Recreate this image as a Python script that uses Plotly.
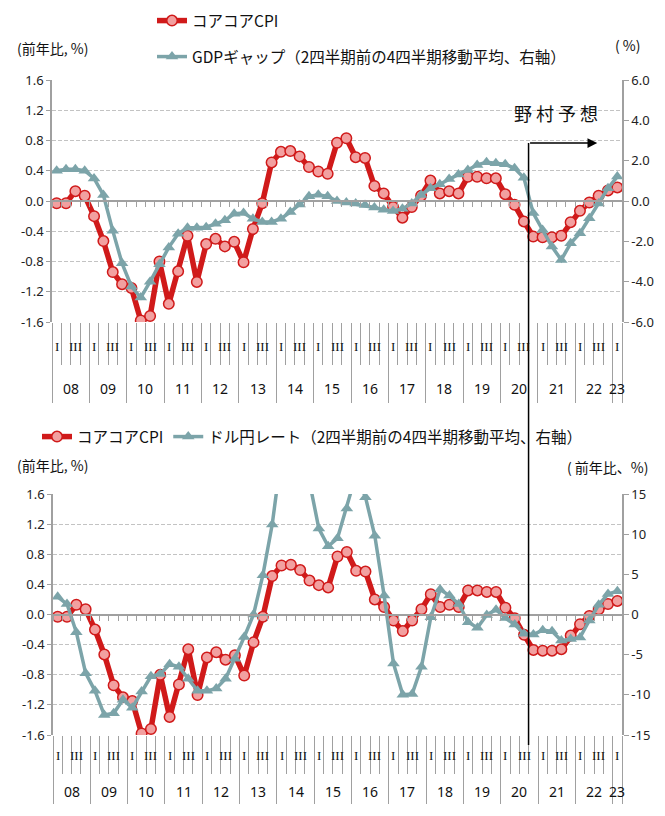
import plotly.graph_objects as go

# ---------------- data ----------------
quarters = list(range(61))  # 2008Q1 .. 2023Q1
years = ["08", "09", "10", "11", "12", "13", "14", "15", "16", "17", "18", "19", "20", "21", "22", "23"]
quarter_labels = ["I", "", "III", ""]

core_core_cpi = [-0.03, -0.03, 0.13, 0.07, -0.20, -0.53, -0.94, -1.10, -1.15, -1.58,
                 -1.52, -0.80, -1.36, -0.93, -0.46, -1.07, -0.57, -0.50, -0.60, -0.54,
                 -0.81, -0.37, -0.03, 0.51, 0.65, 0.66, 0.59, 0.45, 0.39, 0.36,
                 0.77, 0.83, 0.58, 0.57, 0.20, 0.10, -0.08, -0.22, -0.08, 0.07,
                 0.27, 0.10, 0.13, 0.10, 0.32, 0.32, 0.30, 0.30, 0.09, -0.05,
                 -0.27, -0.47, -0.48, -0.48, -0.46, -0.28, -0.13, -0.02, 0.07, 0.14, 0.18]

gdp_gap = [1.50, 1.58, 1.58, 1.50, 1.12, 0.30, -1.47, -3.09, -4.24, -4.79,
           -4.00, -3.14, -2.30, -1.62, -1.33, -1.33, -1.30, -1.13, -0.96, -0.63,
           -0.60, -0.88, -1.04, -1.04, -0.88, -0.55, -0.17, 0.23, 0.31, 0.23,
           0.00, -0.08, -0.12, -0.20, -0.32, -0.43, -0.49, -0.38, -0.12, 0.30,
           0.63, 0.83, 1.09, 1.32, 1.54, 1.79, 1.92, 1.87, 1.82, 1.62,
           1.15, -0.60, -1.44, -2.26, -2.92, -2.10, -1.60, -0.86, -0.12, 0.63, 1.21]

usdjpy = [2.2, 1.3, -2.2, -7.3, -9.5, -12.5, -12.3, -10.6, -11.6, -9.6,
          -7.7, -7.4, -6.2, -6.5, -8.0, -9.5, -9.5, -9.2, -8.0, -5.5,
          -2.8, 0.0, 4.9, 11.2, 20.0, 22.5, 19.5, 16.5, 10.7, 8.5,
          9.5, 13.2, 17.5, 14.6, 9.8, 2.35, -6.1, -10.0, -9.9, -6.5,
          -0.35, 3.1, 2.35, 1.3, -0.95, -1.65, -0.05, 0.6, -0.45, -1.25,
          -2.4, -2.5, -1.95, -2.1, -3.25, -3.05, -2.85, -0.75, 1.2, 2.55, 2.9]

left_ticks = [-1.6, -1.2, -0.8, -0.4, 0.0, 0.4, 0.8, 1.2, 1.6]
gdp_ticks = [-6.0, -4.0, -2.0, 0.0, 2.0, 4.0, 6.0]
fx_ticks = [-15, -10, -5, 0, 5, 10, 15]
forecast_start = 50.5  # boundary between 2020Q3 and 2020Q4

# ---------------- style ----------------
OFF = 8                     # page body margin
FW, FH = 665 - 2 * OFF, 816 - 2 * OFF
RED = "rgb(208,26,26)"
PINK = "rgb(242,160,160)"
TEAL = "rgb(124,164,169)"
AX = "rgb(160,160,160)"
GRID = "rgb(195,195,195)"
JP = "Noto Sans CJK JP"
NUM = "Noto Sans"
SERIF = "Liberation Serif"

def px(x):
    return (x - OFF) / FW

def py(y):
    return 1 - (y - OFF) / FH

top_y = [py(322), py(80)]
bot_y = [py(735), py(494)]
top_x = [px(52), px(622)]
bot_x = [px(53), px(622)]

q_bounds = [i - 0.5 for i in range(62)]
y_bounds = [i - 0.5 for i in range(0, 61, 4)] + [60.5]

fig = go.Figure()

cpi_style = dict(mode="lines+markers", line=dict(color=RED, width=5.5),
                 marker=dict(symbol="circle", size=10.5, color=PINK, line=dict(color=RED, width=1.5)))
teal_style = dict(mode="lines+markers", line=dict(color=TEAL, width=3.5),
                  marker=dict(symbol="triangle-up", size=11, color=TEAL))

def helper(xa, ya):
    return go.Scatter(x=[None], y=[None], xaxis=xa, yaxis=ya, showlegend=False, hoverinfo="skip")

fig.add_trace(go.Scatter(x=quarters, y=core_core_cpi, name="コアコアCPI", xaxis="x", yaxis="y",
                         legend="legend", hoverinfo="skip", **cpi_style))
fig.add_trace(go.Scatter(x=quarters, y=gdp_gap, name="GDPギャップ（2四半期前の4四半期移動平均、右軸）",
                         xaxis="x", yaxis="y2", legend="legend2", hoverinfo="skip", **teal_style))
fig.add_trace(helper("x3", "y"))
fig.add_trace(helper("x5", "y"))

fig.add_trace(go.Scatter(x=quarters, y=core_core_cpi, name="コアコアCPI", xaxis="x2", yaxis="y3",
                         legend="legend3", hoverinfo="skip", **cpi_style))
fig.add_trace(go.Scatter(x=quarters, y=usdjpy, name="ドル円レート（2四半期前の4四半期移動平均、右軸）",
                         xaxis="x2", yaxis="y4", legend="legend3", hoverinfo="skip", **teal_style))
fig.add_trace(helper("x4", "y3"))
fig.add_trace(helper("x6", "y3"))

def cat_axis(domain, anchor, ylen):
    # year separators in the label area
    return dict(domain=domain, anchor=anchor, range=[-0.5, 60.5], showgrid=False, zeroline=False,
                automargin=False, showline=False, tickmode="array", tickvals=y_bounds, ticks="outside",
                ticklen=ylen, tickcolor=AX, tickwidth=1, showticklabels=False)

def quarter_axis(over, pos, qlen):
    # quarter separators in the first label row
    return dict(overlaying=over, anchor="free", position=pos, range=[-0.5, 60.5], showgrid=False,
                automargin=False, zeroline=False, showline=False, tickmode="array", tickvals=q_bounds,
                ticks="outside", ticklen=qlen, tickcolor=AX, tickwidth=1, showticklabels=False)

def zero_axis(over, pos):
    return dict(overlaying=over, anchor="free", position=pos, range=[-0.5, 60.5], showgrid=False,
                automargin=False, zeroline=False, showline=True, linecolor=AX, linewidth=2,
                tickmode="array", tickvals=q_bounds, ticks="outside", ticklen=5, tickcolor=AX,
                tickwidth=1, showticklabels=False)

def left_axis(domain, anchor):
    return dict(domain=domain, anchor=anchor, range=[-1.6, 1.6], tickmode="array", tickvals=left_ticks,
                ticktext=[f"{v:.1f}" for v in left_ticks], showgrid=True, gridcolor=GRID, gridwidth=1,
                griddash="4px,2px", zeroline=False, showline=True, linecolor=AX, linewidth=1.5,
                automargin=False, ticks="outside", ticklen=4, tickcolor=AX,
                tickfont=dict(family=NUM, size=13, color="#222"))

def right_axis(over, anchor, rng, vals, fmt):
    return dict(overlaying=over, anchor=anchor, side="right", range=rng, tickmode="array", tickvals=vals,
                ticktext=[fmt(v) for v in vals], showgrid=False, zeroline=False, showline=True,
                automargin=False, linecolor=AX, linewidth=1.5, ticks="outside", ticklen=5, tickcolor=AX,
                tickfont=dict(family=NUM, size=13, color="#222"))

zero_top = (top_y[0] + top_y[1]) / 2
zero_bot = (bot_y[0] + bot_y[1]) / 2

leg_font = dict(family=JP, size=15.5, color="#111")
fig.update_layout(
    template="none",
    width=FW, height=FH, margin=dict(l=0, r=0, t=0, b=0, autoexpand=False),
    paper_bgcolor="white", plot_bgcolor="rgba(0,0,0,0)",
    xaxis=cat_axis(top_x, "y", 80),
    xaxis2=cat_axis(bot_x, "y3", 68),
    xaxis3=zero_axis("x", zero_top),
    xaxis4=zero_axis("x2", zero_bot),
    xaxis5=quarter_axis("x", top_y[0], 42),
    xaxis6=quarter_axis("x2", bot_y[0], 38),
    yaxis=left_axis(top_y, "x"),
    yaxis2=right_axis("y", "x", [-6, 6], gdp_ticks, lambda v: f"{v:.1f}"),
    yaxis3=left_axis(bot_y, "x2"),
    yaxis4=right_axis("y3", "x2", [-15, 15], fx_ticks, lambda v: f"{v:d}"),
    legend=dict(x=px(152), y=py(21), xanchor="left", yanchor="middle", bgcolor="rgba(0,0,0,0)",
                font=leg_font),
    legend2=dict(x=px(152), y=py(57), xanchor="left", yanchor="middle", bgcolor="rgba(0,0,0,0)",
                 font=leg_font),
    legend3=dict(x=px(37), y=py(437), xanchor="left", yanchor="middle", orientation="h",
                 bgcolor="rgba(0,0,0,0)", font=leg_font),
    showlegend=True,
)

ann = []
def txt(x, y, s, size=14, xref="paper", yref="paper", family=JP):
    ann.append(dict(x=x, y=y, xref=xref, yref=yref, text=s, showarrow=False,
                    font=dict(family=family, size=size, color="#111"), xanchor="center", yanchor="middle"))

for xr, yq, yy in (("x", py(346), py(388)), ("x2", py(755), py(791))):
    for i in quarters:
        lab = quarter_labels[i % 4]
        if lab:
            txt(i, yq, lab, size=13, xref=xr, family=SERIF)
    for k, yr in enumerate(years):
        cx = 4 * k + 1.5 if k < len(years) - 1 else 60
        txt(cx, yy, yr, size=14, xref=xr, family=NUM)

txt(px(52), py(48), "(前年比, %)", size=14)
txt(px(628), py(45), "( %)", size=14)
txt(px(52), py(465), "(前年比, %)", size=14)
txt(px(608), py(467), "( 前年比、%)", size=14)
txt(px(556), py(113), "野 村 予 想", size=18)

arrow_y = 0.767
ann.append(dict(x=57.85, y=arrow_y, xref="x", yref="y", ax=forecast_start, ay=arrow_y, axref="x", ayref="y",
                text="", showarrow=True, arrowhead=2, arrowsize=1.3, arrowwidth=1.5, arrowcolor="black"))
fig.update_layout(annotations=ann)

fig.add_shape(type="line", xref="x", yref="paper", x0=forecast_start, x1=forecast_start,
              y0=py(143), y1=py(745), line=dict(color="black", width=1.5))

fig.write_html("out.html")
